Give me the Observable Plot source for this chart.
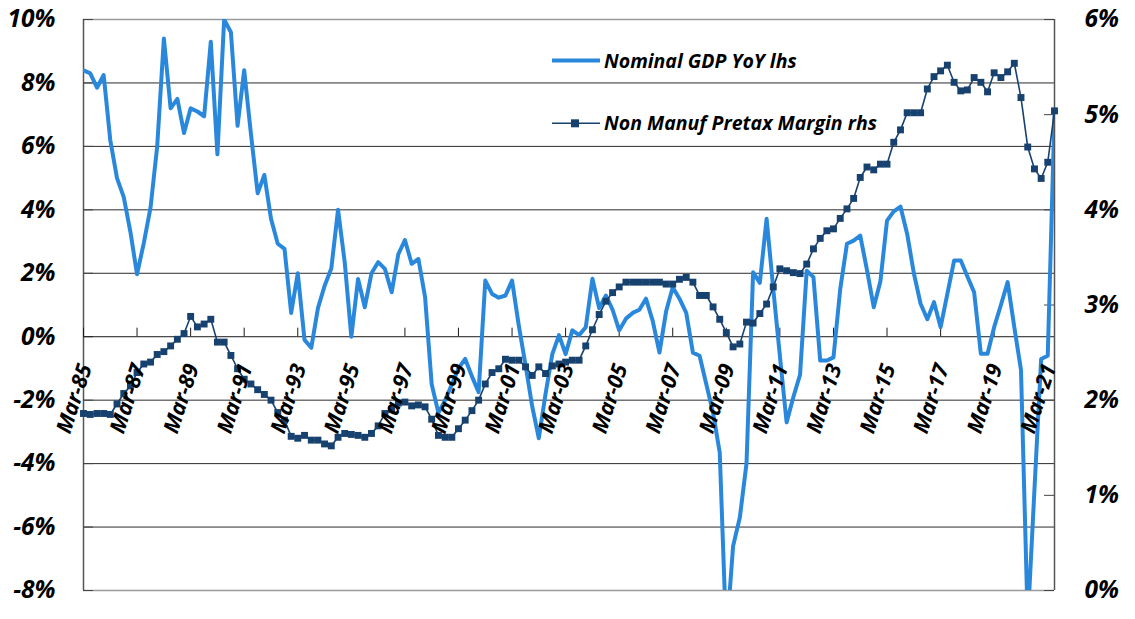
<!DOCTYPE html>
<html><head><meta charset="utf-8">
<script src="https://cdn.jsdelivr.net/npm/d3@7"></script>
<script src="https://cdn.jsdelivr.net/npm/@observablehq/plot@0.6"></script>
<style>
body{margin:0;background:#fff;}
#wrap{position:relative;width:1135px;height:619px;}
#legend{position:absolute;left:0;top:0;pointer-events:none;}
#legend text{font-family:"Open Sans",sans-serif;font-weight:bold;font-style:italic;font-size:19.5px;fill:#000;}
</style></head><body>
<div id="wrap"></div>
<script>
const tickLabels = ["Mar-85","Mar-87","Mar-89","Mar-91","Mar-93","Mar-95","Mar-97","Mar-99","Mar-01","Mar-03",
  "Mar-05","Mar-07","Mar-09","Mar-11","Mar-13","Mar-15","Mar-17","Mar-19","Mar-21"];
const leftTicks = [-8,-6,-4,-2,0,2,4,6,8,10];
const rightTicks = [0,1,2,3,4,5,6];
const seriesNames = ["Nominal GDP YoY lhs","Non Manuf Pretax Margin rhs"];

const gdpYoY = [8.4, 8.3, 7.85, 8.25, 6.2, 5.0, 4.4, 3.3, 1.97, 2.95,
 4.07, 6.0, 9.4, 7.2, 7.5, 6.42, 7.2, 7.1, 6.95, 9.3,
 5.75, 10.0, 9.6, 6.65, 8.4, 6.4, 4.52, 5.1, 3.72, 2.93,
 2.77, 0.75, 2.0, -0.1, -0.35, 0.9, 1.6, 2.15, 4.0, 2.35,
 0.0, 1.82, 0.93, 2.0, 2.35, 2.14, 1.4, 2.6, 3.05, 2.3,
 2.45, 1.25, -1.5, -2.4, -2.0, -1.5, -1.0, -0.7, -1.25, -1.75,
 1.77, 1.35, 1.23, 1.3, 1.77, 0.35, -0.9, -2.2, -3.2, -1.8,
 -0.55, 0.05, -0.55, 0.2, 0.05, 0.3, 1.83, 0.9, 1.3, 0.85,
 0.2, 0.57, 0.75, 0.85, 1.2, 0.5, -0.5, 0.8, 1.56, 1.2,
 0.75, -0.5, -0.6, -1.5, -2.4, -3.65, -9.5, -6.6, -5.7, -4.0,
 2.03, 1.7, 3.72, 1.5, -0.6, -2.7, -1.9, -1.2, 2.08, 1.88,
 -0.75, -0.75, -0.65, 1.5, 2.93, 3.03, 3.19, 2.1, 0.93, 1.75,
 3.66, 3.95, 4.1, 3.24, 2.0, 1.04, 0.55, 1.09, 0.3, 1.35,
 2.4, 2.4, 1.9, 1.4, -0.54, -0.54, 0.3, 1.0, 1.72, 0.3,
 -1.05, -9.0, -4.8, -0.7, -0.6, 7.0];

const pretaxMargin = [1.86, 1.85, 1.86, 1.86, 1.85, 1.96, 2.07, 2.15, 2.29, 2.38,
 2.40, 2.48, 2.51, 2.57, 2.64, 2.70, 2.88, 2.77, 2.80, 2.85,
 2.61, 2.61, 2.47, 2.33, 2.22, 2.17, 2.11, 2.06, 2.00, 1.87,
 1.79, 1.62, 1.60, 1.63, 1.58, 1.58, 1.54, 1.52, 1.61, 1.65,
 1.64, 1.63, 1.61, 1.65, 1.73, 1.86, 1.90, 1.97, 1.98, 1.94,
 1.95, 1.93, 1.80, 1.63, 1.61, 1.61, 1.70, 1.79, 1.89, 2.00,
 2.17, 2.29, 2.33, 2.43, 2.42, 2.42, 2.35, 2.26, 2.35, 2.28,
 2.36, 2.38, 2.40, 2.42, 2.42, 2.57, 2.74, 2.90, 3.04, 3.13,
 3.19, 3.24, 3.24, 3.24, 3.24, 3.24, 3.24, 3.22, 3.22, 3.27,
 3.29, 3.24, 3.10, 3.10, 2.98, 2.85, 2.71, 2.56, 2.59, 2.82,
 2.81, 2.91, 3.01, 3.19, 3.38, 3.36, 3.34, 3.33, 3.43, 3.59,
 3.70, 3.78, 3.80, 3.91, 4.01, 4.12, 4.34, 4.45, 4.42, 4.48,
 4.48, 4.71, 4.84, 5.02, 5.02, 5.02, 5.27, 5.40, 5.46, 5.52,
 5.34, 5.25, 5.26, 5.39, 5.34, 5.24, 5.44, 5.39, 5.45, 5.54,
 5.18, 4.66, 4.43, 4.33, 4.50, 5.04];

const GDP_COLOR = "#2a88dc";
const MARGIN_COLOR = "#17416f";
const FONT = "'Open Sans', sans-serif";

const quarters = d3.utcMonths(new Date(Date.UTC(1985,2,1)), new Date(Date.UTC(2021,6,1)), 3);
const data = quarters.map((q,i) => ({q, gdp: gdpYoY[i], margin: pretaxMargin[i]}));
const tickData = tickLabels.map((label,k) => ({q: quarters[k*8], label}));
// right axis (0..6%) mapped onto left scale (-8..10%)
const toLeft = m => m*3 - 8;

const W = 1135, H = 619, ML = 83, MR = 81, MT = 19, MB = 29;
const innerW = W - ML - MR;

const chart = Plot.plot({
  width: W, height: H,
  marginLeft: ML, marginRight: MR, marginTop: MT, marginBottom: MB,
  style: {fontFamily: FONT, background: "#fff", color: "#000"},
  x: {type: "utc", domain: [quarters[0], quarters[quarters.length-1]], axis: null},
  y: {domain: [-8, 10]},
  marks: [
    Plot.ruleY(leftTicks.filter(v => v > -8 && v < 10 && v !== 0), {stroke: "#2b2b2b", strokeWidth: 1}),
    Plot.ruleY([-8, 10], {stroke: "#9a9a9a", strokeWidth: 1.5}),
    Plot.ruleX([quarters[0], quarters[quarters.length-1]], {stroke: "#555", strokeWidth: 1.5}),
    Plot.ruleY(leftTicks, {insetRight: innerW - 10, stroke: "#444"}),
    Plot.ruleY(rightTicks.map(toLeft), {insetLeft: innerW - 10, stroke: "#444"}),
    Plot.ruleY([0], {stroke: "#1a1a1a", strokeWidth: 1}),
    Plot.ruleX(tickData, {x: "q", y1: 0, y2: 0.27, stroke: "#1a1a1a"}),
    Plot.line(data, {x: "q", y: "gdp", stroke: GDP_COLOR, strokeWidth: 4, strokeLinejoin: "round", clip: true}),
    Plot.line(data, {x: "q", y: d => toLeft(d.margin), stroke: MARGIN_COLOR, strokeWidth: 1.6}),
    Plot.dot(data, {x: "q", y: d => toLeft(d.margin), symbol: "square", r: 3.9, fill: MARGIN_COLOR}),
    Plot.text(tickData, {x: "q", y: d => 0, text: "label", rotate: -72, textAnchor: "end", lineAnchor: "middle",
      dx: 2, dy: 28, fontSize: 21.5, fontWeight: "bold", fontStyle: "italic", fill: "#000"}),
    Plot.axisY(leftTicks, {anchor: "left", tickSize: 0, tickPadding: 28, label: null,
      tickFormat: d => d + "%", fontSize: 24.5, fontWeight: "bold", fontStyle: "italic", fill: "#000"}),
    Plot.axisY(rightTicks.map(toLeft), {anchor: "right", tickSize: 0, tickPadding: 30, label: null,
      tickFormat: d => Math.round((d + 8) / 3) + "%", fontSize: 24.5, fontWeight: "bold", fontStyle: "italic", fill: "#000"})
  ]
});

const wrap = document.getElementById("wrap");
wrap.appendChild(chart);

// in-plot legend overlay
const ns = "http://www.w3.org/2000/svg";
const lg = document.createElementNS(ns, "svg");
lg.setAttribute("id", "legend");
lg.setAttribute("width", W); lg.setAttribute("height", H);
function el(tag, attrs, txt){ const e = document.createElementNS(ns, tag); for (const k in attrs) e.setAttribute(k, attrs[k]); if (txt) e.textContent = txt; lg.appendChild(e); return e; }
el("line", {x1: 552, x2: 600, y1: 60.5, y2: 60.5, stroke: GDP_COLOR, "stroke-width": 4});
el("text", {x: 604, y: 67.5}, seriesNames[0]);
el("line", {x1: 552, x2: 600, y1: 123.3, y2: 123.3, stroke: MARGIN_COLOR, "stroke-width": 1.6});
el("rect", {x: 571, y: 119.3, width: 8, height: 8, fill: MARGIN_COLOR});
el("text", {x: 604, y: 130}, seriesNames[1]);
wrap.appendChild(lg);
</script>
</body></html>
